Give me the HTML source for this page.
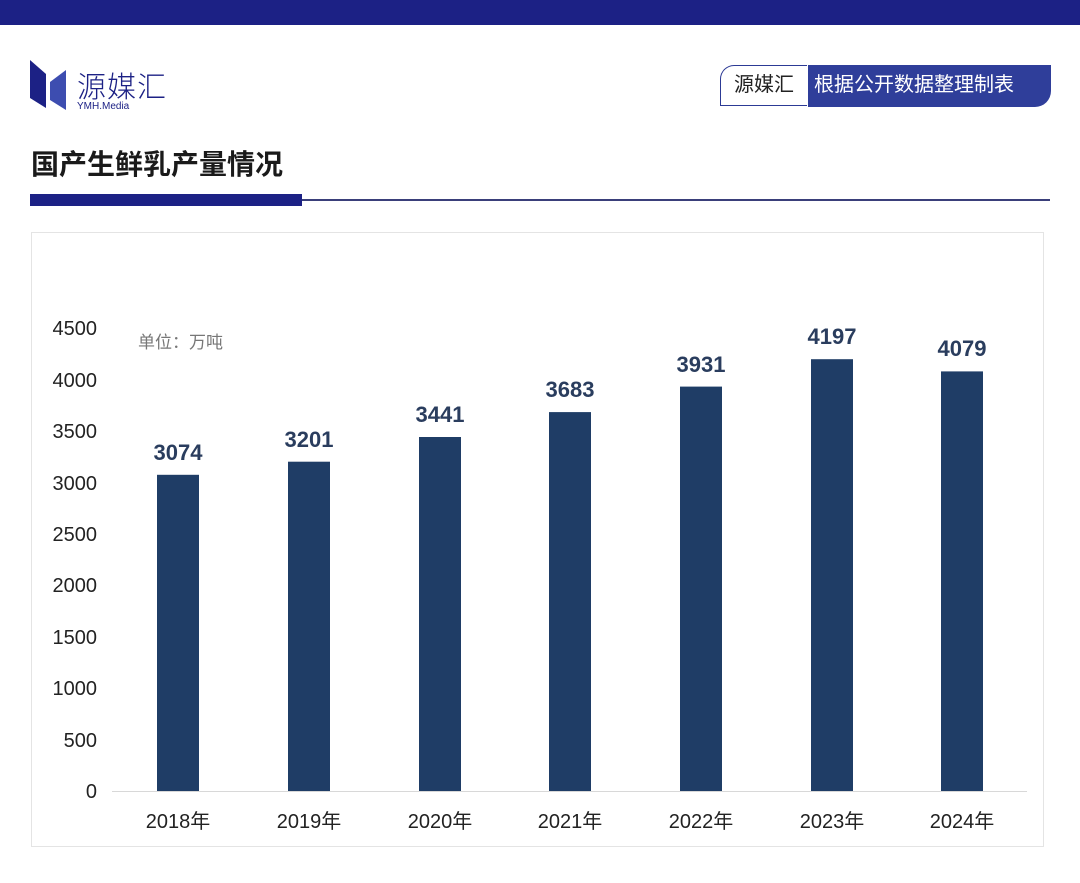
<!DOCTYPE html>
<html><head><meta charset="utf-8"><style>
body{margin:0;width:1080px;height:883px;background:#fff;position:relative;overflow:hidden;font-family:"Liberation Sans","Noto Sans CJK SC",sans-serif}
.a{position:absolute}
</style></head><body>
<div class="a" style="left:0;top:0;width:1080px;height:25px;background:#1c2185"></div>
<svg class="a" style="left:30px;top:60px" width="40" height="50"><polygon points="0,0 16,14 16,48 0,38" fill="#1c2185"/><polygon points="36,10 36,50 20,40 20,22" fill="#3d4db0"/></svg>
<div class="a" style="left:77px;top:64px;font-size:29px;color:#1c2185;font-weight:300;letter-spacing:1px">源媒汇</div>
<div class="a" style="left:77px;top:101px;font-size:10px;color:#1c2185">YMH.Media</div>
<div class="a" style="left:720px;top:65px;width:86px;height:39px;border:1.5px solid #2c3a95;border-right:none;border-radius:14px 0 0 0;background:#fff;font-size:20px;color:#222;text-align:center;line-height:39px">源媒汇</div>
<div class="a" style="left:808px;top:65px;width:243px;height:42px;background:#2f3e9a;border-radius:0 0 16px 0;color:#fff;font-size:20px;line-height:41px;padding-left:6px;box-sizing:border-box">根据公开数据整理制表</div>
<div class="a" style="left:31px;top:143px;font-size:28px;font-weight:bold;color:#1a1a1a">国产生鲜乳产量情况</div>
<div class="a" style="left:30px;top:194px;width:272px;height:12px;background:#1c2185"></div>
<div class="a" style="left:302px;top:199px;width:748px;height:1.5px;background:#3a3f7a"></div>
<div class="a" style="left:31px;top:232px;width:1013px;height:615px;border:1px solid #e4e4e4;box-sizing:border-box"></div>
<svg class="a" style="left:0;top:0" width="1080" height="883" font-family="Liberation Sans, Noto Sans CJK SC, sans-serif">
<g font-size="20" fill="#222" text-anchor="end">
<text x="97" y="798">0</text><text x="97" y="747">500</text><text x="97" y="695">1000</text><text x="97" y="644">1500</text><text x="97" y="592">2000</text><text x="97" y="541">2500</text><text x="97" y="490">3000</text><text x="97" y="438">3500</text><text x="97" y="387">4000</text><text x="97" y="335">4500</text>
</g>
<text x="138" y="348" font-size="17" fill="#777">单位：万吨</text>
<line x1="112" y1="791.5" x2="1027" y2="791.5" stroke="#d8d8d8"/>
<g fill="#1f3d66">
<rect x="157" y="474.8" width="42" height="316.2"/>
<rect x="288" y="461.7" width="42" height="329.3"/>
<rect x="419" y="437" width="42" height="354"/>
<rect x="549" y="412.1" width="42" height="378.9"/>
<rect x="680" y="386.6" width="42" height="404.4"/>
<rect x="811" y="359.2" width="42" height="431.8"/>
<rect x="941" y="371.4" width="42" height="419.6"/>
</g>
<g font-size="22" font-weight="bold" fill="#2a3d5e" text-anchor="middle">
<text x="178" y="460">3074</text><text x="309" y="447">3201</text><text x="440" y="422">3441</text><text x="570" y="397">3683</text><text x="701" y="372">3931</text><text x="832" y="344">4197</text><text x="962" y="356">4079</text>
</g>
<g font-size="20" fill="#222" text-anchor="middle">
<text x="178" y="828">2018年</text><text x="309" y="828">2019年</text><text x="440" y="828">2020年</text><text x="570" y="828">2021年</text><text x="701" y="828">2022年</text><text x="832" y="828">2023年</text><text x="962" y="828">2024年</text>
</g>
</svg>
</body></html>
